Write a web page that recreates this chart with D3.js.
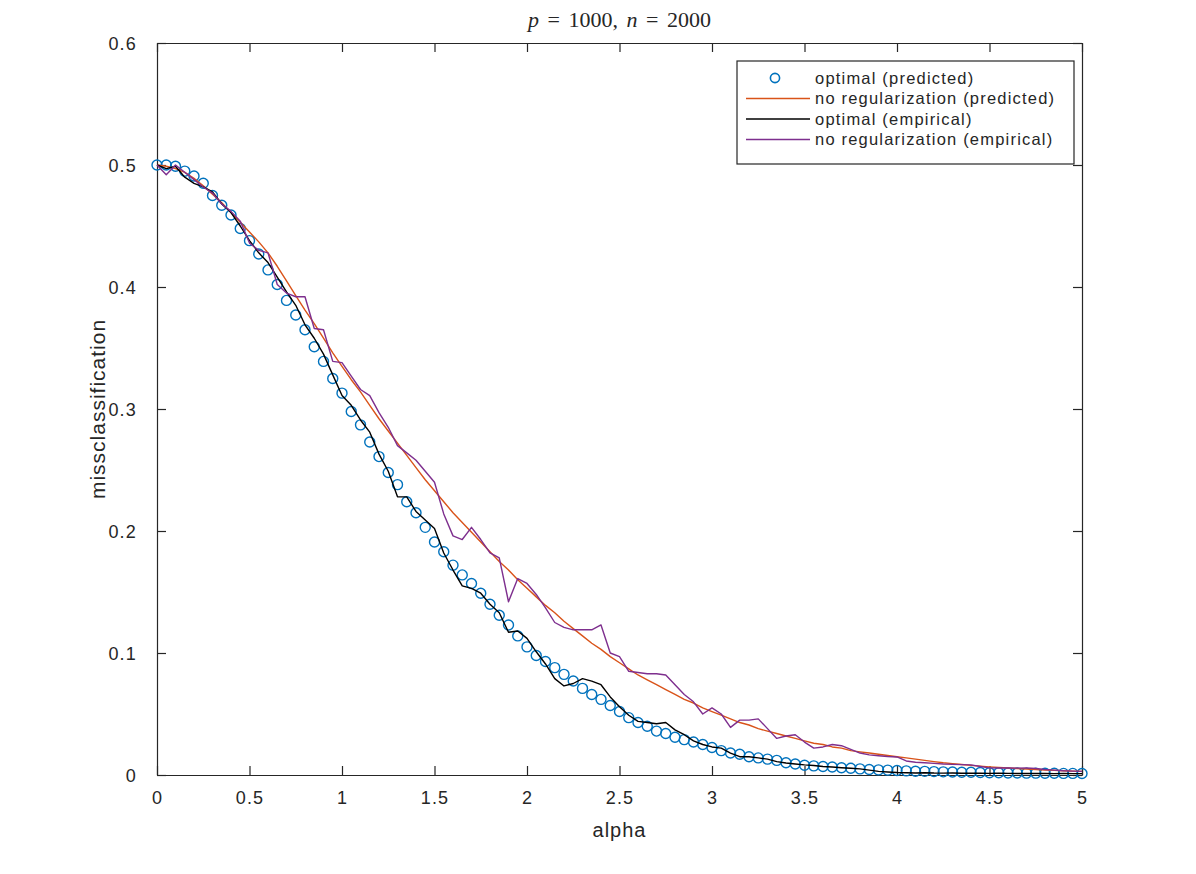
<!DOCTYPE html>
<html>
<head>
<meta charset="utf-8">
<script src="https://d3js.org/d3.v7.min.js"></script>
<style>
  body { margin: 0; background: #fff; }
  text { font-family: "Liberation Sans", Arial, sans-serif; fill: #262626; }
</style>
</head>
<body>
<svg width="1196" height="874"></svg>
<script>
// x grid: alpha from 0 to 5 in steps of 0.05 (101 points)
let alpha = d3.range(101).map(i => +(i * 0.05).toFixed(2));

// optimal (predicted) - circles
let optPred = [
  0.500,0.500,0.499,0.495,0.491,0.485,0.475,0.467,0.459,0.448,
  0.438,0.427,0.414,0.402,0.389,0.377,0.365,0.351,0.339,0.325,
  0.313,0.298,0.287,0.273,0.261,0.248,0.238,0.224,0.215,0.203,
  0.191,0.183,0.172,0.164,0.157,0.149,0.140,0.131,0.123,0.114,
  0.105,0.098,0.093,0.088,0.0825,0.077,0.071,0.066,0.062,0.057,
  0.052,0.047,0.043,0.040,0.036,0.034,0.031,0.029,0.027,0.025,
  0.0225,0.020,0.018,0.017,0.015,0.014,0.013,0.012,0.010,0.009,
  0.008,0.0075,0.007,0.0065,0.006,0.0055,0.005,0.0045,0.0042,0.004,
  0.0037,0.0034,0.0031,0.003,0.0028,0.0026,0.0025,0.0023,0.0022,0.002,
  0.0019,0.0018,0.0017,0.0016,0.0015,0.0015,0.0014,0.0014,0.0013,0.0013,
  0.0012
];

// no regularization (predicted)
let noRegPred = [
  0.500,0.499,0.497,0.494,0.489,0.483,0.476,0.469,0.461,0.453,
  0.445,0.437,0.428,0.417,0.405,0.393,0.381,0.370,0.358,0.346,
  0.335,0.324,0.314,0.303,0.292,0.282,0.272,0.262,0.252,0.242,
  0.233,0.224,0.215,0.207,0.199,0.191,0.183,0.175,0.168,0.160,
  0.153,0.146,0.139,0.133,0.126,0.120,0.114,0.108,0.103,0.097,
  0.092,0.087,0.082,0.078,0.074,0.070,0.066,0.062,0.059,0.055,
  0.052,0.049,0.046,0.043,0.041,0.038,0.036,0.034,0.032,0.030,
  0.028,0.026,0.025,0.023,0.022,0.020,0.019,0.018,0.017,0.016,
  0.015,0.014,0.013,0.012,0.011,0.010,0.0093,0.0086,0.0079,0.0073,
  0.0067,0.0062,0.0057,0.0053,0.0049,0.0045,0.0041,0.0038,0.0035,0.0032,
  0.003
];

// optimal (empirical)
let optEmp = [
  0.500,0.497,0.499,0.490,0.485,0.482,0.478,0.468,0.461,0.450,
  0.438,0.428,0.420,0.408,0.396,0.385,0.369,0.358,0.345,0.328,
  0.311,0.303,0.291,0.281,0.263,0.249,0.228,0.228,0.216,0.209,
  0.202,0.182,0.168,0.155,0.153,0.149,0.140,0.133,0.117,0.118,
  0.112,0.101,0.091,0.079,0.073,0.075,0.079,0.077,0.074,0.064,
  0.056,0.049,0.044,0.043,0.042,0.043,0.037,0.033,0.028,0.025,
  0.023,0.022,0.018,0.015,0.015,0.014,0.013,0.011,0.0098,0.009,
  0.0083,0.0078,0.007,0.0065,0.006,0.0055,0.005,0.004,0.003,0.0025,
  0.002,0.0018,0.0017,0.0019,0.0016,0.0015,0.0016,0.0014,0.0015,0.0014,
  0.0013,0.0014,0.0013,0.0012,0.0013,0.0012,0.0012,0.0011,0.0012,0.0011,
  0.0011
];

// no regularization (empirical)
let noRegEmp = [
  0.500,0.492,0.500,0.494,0.488,0.482,0.477,0.468,0.462,0.454,
  0.436,0.430,0.428,0.402,0.395,0.392,0.392,0.366,0.365,0.339,
  0.338,0.327,0.316,0.311,0.297,0.285,0.270,0.264,0.258,0.249,
  0.240,0.214,0.196,0.193,0.203,0.193,0.182,0.178,0.142,0.161,
  0.157,0.148,0.137,0.125,0.121,0.119,0.119,0.119,0.123,0.100,
  0.097,0.085,0.084,0.083,0.083,0.082,0.074,0.066,0.060,0.050,
  0.055,0.050,0.039,0.045,0.045,0.046,0.038,0.030,0.032,0.033,
  0.027,0.022,0.023,0.025,0.024,0.021,0.018,0.0165,0.0158,0.0152,
  0.0148,0.0115,0.0105,0.0100,0.0095,0.0090,0.0087,0.0085,0.0083,0.0070,
  0.0058,0.0057,0.0057,0.0056,0.0057,0.0053,0.0045,0.0040,0.0035,0.0032,
  0.003
];

let xTicks = [0, 0.5, 1, 1.5, 2, 2.5, 3, 3.5, 4, 4.5, 5];
let yTicks = [0, 0.1, 0.2, 0.3, 0.4, 0.5, 0.6];
let legendLabels = ["optimal (predicted)", "no regularization (predicted)", "optimal (empirical)", "no regularization (empirical)"];
let colors = ["#0072BD", "#D95319", "#000000", "#7E2F8E"];

var drawChart = function()
{
  let svg = d3.select("svg");
  let margin = {
    top:    43,
    right:  114,
    bottom: 99,
    left:   157
  };
  let plotWidth = 1196 - margin.left - margin.right;
  let plotHeight = 874 - margin.top - margin.bottom;

  let x = d3.scaleLinear().domain([0, 5]).range([0, plotWidth]);
  let y = d3.scaleLinear().domain([0, 0.6]).range([plotHeight, 0]);

  let plot = svg.append("g").attr("id", "plot")
    .attr("transform", "translate(" + margin.left + "," + margin.top + ")");

  // inward ticks on all four sides, matlab style
  let tickLen = 9;
  let xAxis = d3.axisBottom(x).tickValues(xTicks).tickFormat(d3.format("")).tickSizeInner(-tickLen).tickSizeOuter(0).tickPadding(16);
  let yAxis = d3.axisLeft(y).tickValues(yTicks).tickFormat(d3.format("")).tickSizeInner(-tickLen).tickSizeOuter(0).tickPadding(20);
  let xTop = d3.axisTop(x).tickValues(xTicks).tickFormat("").tickSizeInner(-tickLen).tickSizeOuter(0);
  let yRight = d3.axisRight(y).tickValues(yTicks).tickFormat("").tickSizeInner(-tickLen).tickSizeOuter(0);

  let xGroup = plot.append("g").attr("id", "x-axis")
    .attr("transform", "translate(0," + plotHeight + ")").call(xAxis);
  let yGroup = plot.append("g").attr("id", "y-axis").call(yAxis);
  plot.append("g").call(xTop);
  plot.append("g").attr("transform", "translate(" + plotWidth + ",0)").call(yRight);

  plot.selectAll(".domain").attr("stroke", "#262626").attr("stroke-width", 1.2);
  plot.selectAll(".tick line").attr("stroke", "#262626").attr("stroke-width", 1.2);
  plot.selectAll(".tick text")
    .style("font-size", "18px")
    .style("letter-spacing", "1.2px")
    .style("font-family", "'Liberation Sans', Arial, sans-serif")
    .attr("fill", "#333");
  yGroup.selectAll(".tick text").attr("dy", "0.36em");

  // the series
  let series = [optPred, noRegPred, optEmp, noRegEmp];
  let line = d3.line()
    .x((d, i) => x(alpha[i]))
    .y(d => y(d));

  plot.append("g").attr("id", "circles")
    .selectAll("circle")
    .data(optPred)
    .enter().append("circle")
    .attr("cx", (d, i) => x(alpha[i]))
    .attr("cy", d => y(d))
    .attr("r", 5)
    .attr("fill", "none")
    .attr("stroke", colors[0])
    .attr("stroke-width", 1.4);

  for (let s = 1; s < 4; s++) {
    plot.append("path")
      .datum(series[s])
      .attr("d", line)
      .attr("fill", "none")
      .attr("stroke", colors[s])
      .attr("stroke-width", 1.4)
      .attr("stroke-linejoin", "round");
  }

  // axis labels
  plot.append("text")
    .attr("transform", "translate(" + (plotWidth / 2) + "," + (plotHeight + 62) + ")")
    .style("text-anchor", "middle")
    .style("font-size", "20px")
    .style("letter-spacing", "1px")
    .attr("fill", "#333")
    .text("alpha");
  plot.append("text")
    .attr("transform", "translate(" + (-52) + "," + (plotHeight / 2) + ") rotate(-90)")
    .style("text-anchor", "middle")
    .style("font-size", "21px")
    .style("letter-spacing", "1px")
    .attr("fill", "#333")
    .text("missclassification");

  // title, latex look
  let title = svg.append("text")
    .attr("x", margin.left + plotWidth / 2)
    .attr("y", 27)
    .style("text-anchor", "middle")
    .style("font-family", "'Liberation Serif', 'DejaVu Serif', serif")
    .style("font-size", "22px")
    .style("word-spacing", "3px")
    .attr("fill", "#262626");
  title.append("tspan").style("font-style", "italic").text("p");
  title.append("tspan").text(" = 1000, ");
  title.append("tspan").style("font-style", "italic").text("n");
  title.append("tspan").text(" = 2000");

  // legend
  let lg = plot.append("g").attr("id", "legend")
    .attr("transform", "translate(" + (737 - margin.left) + "," + (61 - margin.top) + ")");
  lg.append("rect")
    .attr("width", 337).attr("height", 103)
    .attr("fill", "#fff").attr("stroke", "#262626").attr("stroke-width", 1.2);
  legendLabels.forEach(function(label, i) {
    let cy = 17 + i * 20.5;
    if (i == 0) {
      lg.append("circle").attr("cx", 38).attr("cy", cy).attr("r", 4.6)
        .attr("fill", "none").attr("stroke", colors[0]).attr("stroke-width", 1.6);
    } else {
      lg.append("line").attr("x1", 9).attr("x2", 73).attr("y1", cy).attr("y2", cy)
        .attr("stroke", colors[i]).attr("stroke-width", 1.4);
    }
    lg.append("text").attr("x", 78).attr("y", cy).attr("dy", "0.35em")
      .style("font-size", "16.5px")
      .style("letter-spacing", "1.2px")
      .attr("fill", "#333")
      .text(label);
  });
}

drawChart();
</script>
</body>
</html>
